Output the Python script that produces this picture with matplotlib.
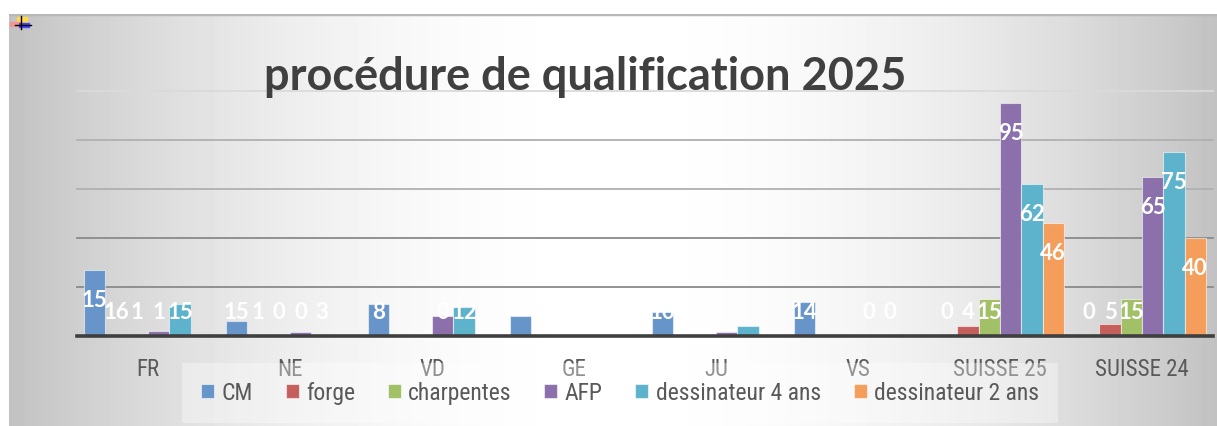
import numpy as np
import matplotlib
matplotlib.use("Agg")
import matplotlib.pyplot as plt
from matplotlib import font_manager
from matplotlib.patches import Rectangle

categories = ["FR", "NE", "VD", "GE", "JU", "VS", "SUISSE 25", "SUISSE 24"]
series_names = ["CM", "forge", "charpentes", "AFP", "dessinateur 4 ans", "dessinateur 2 ans"]

# bar heights as drawn in the reference
cm_vals = [27, 6, 13, 8, 10, 14, 0, 0]
forge_vals = [0, 0, 0, 0, 0, 0, 4, 5]
charp_vals = [0, 0, 0, 0, 0, 0, 15, 15]
afp_vals = [2, 1.5, 8, 0, 1.5, 0, 95, 65]
dess4_vals = [13, 0, 12, 0.5, 4, 0, 62, 75]
dess2_vals = [0, 0, 0, 0, 0, 0, 46, 40]

# data labels as printed in the reference (they do not always match the bars)
cm_labels = ["15", "15", "8", "", "10", "14", "0", "0"]
forge_labels = ["16", "1", "", "", "", "", "4", "5"]
charp_labels = ["1", "0", "", "", "", "", "15", "15"]
afp_labels = ["1", "0", "0", "", "", "0", "95", "65"]
dess4_labels = ["15", "3", "12", "", "", "0", "62", "75"]
dess2_labels = ["", "", "", "", "", "", "46", "40"]

colors = ["#6794C9", "#C45F5C", "#A2C065", "#8B70AB", "#5DB3CB", "#F59D5A"]

values = [cm_vals, forge_vals, charp_vals, afp_vals, dess4_vals, dess2_vals]
labels = [cm_labels, forge_labels, charp_labels, afp_labels, dess4_labels, dess2_labels]

names = {f.name for f in font_manager.fontManager.ttflist}
narrow = next((f for f in ["Liberation Sans Narrow", "Roboto Condensed", "Open Sans Condensed",
                           "Noto Sans"] if f in names), "DejaVu Sans")
bold_font = "Lato" if "Lato" in names else "DejaVu Sans"

W, H = 1217, 427
fig = plt.figure(figsize=(W / 100, H / 100), dpi=100)
fig.patch.set_facecolor("white")


def px(x0, y0, x1, y1):
    # pixel box (top-left origin) -> figure fraction rect
    return [x0 / W, 1 - y1 / H, (x1 - x0) / W, (y1 - y0) / H]


# gradient background of the chart area
bg = fig.add_axes(px(9, 15, 1217, 427))
xx = np.linspace(9, 1217, 400)
u = (xx - 613) / 604
grad = 1 - 0.24 * u ** 2
img = np.tile(grad, (50, 1))
bg.imshow(img, cmap="gray", vmin=0, vmax=1, aspect="auto", extent=[0, 1, 0, 1])
bg.axhline(1, color="#b8b8b8", lw=2.5)
bg.set_axis_off()

# little corner icon
icon = fig.add_axes(px(9, 16, 35, 32))
icon.set_xlim(0, 26)
icon.set_ylim(16, 0)
icon.add_patch(Rectangle((8, 2), 10, 8, color="#ffd84a"))
icon.add_patch(Rectangle((1, 7), 10, 4, color="#ff8c8c", alpha=0.8))
icon.add_patch(Rectangle((10, 8), 10, 4, color="#4646ff"))
icon.plot([12, 12], [1, 14], color="black", lw=1)
icon.plot([6, 22], [10, 10], color="black", lw=1)
icon.set_axis_off()

ax = fig.add_axes(px(77, 92, 1213, 337))
ax.patch.set_alpha(0)
x = np.arange(len(categories))
bw = 0.15
for i, (vals, labs, col) in enumerate(zip(values, labels, colors)):
    pos = x + (i - 2.5) * bw
    ax.bar(pos, vals, width=bw, color=col, edgecolor=(1, 1, 1, 0.55), linewidth=0.8,
           zorder=3, label=series_names[i])
    for p, v, t in zip(pos, vals, labs):
        if t:
            ax.text(p, max(v - 12, 10), t, ha="center", va="center", color="white",
                    fontsize=16, fontweight="bold", family=bold_font, zorder=4)

ax.set_xlim(-0.5, len(categories) - 0.5)
ax.set_ylim(0, 100)
grid_cols = {20: "#8a8a8a", 40: "#8a8a8a", 60: "#b0b0b0", 80: "#b0b0b0", 100: "#dadada"}
for yv, gc in grid_cols.items():
    ax.axhline(yv, color=gc, lw=1.3, zorder=1, clip_on=False)
ax.axhline(0, color="#3f3f3f", lw=2.6, zorder=5, clip_on=False)
for s in ax.spines.values():
    s.set_visible(False)
ax.set_yticks([])
ax.set_xticks(x)
ax.set_xticklabels(categories, fontsize=16.5, color="#595959", family=narrow)
ax.tick_params(axis="x", length=0, pad=15)

fig.text(0.481, 1 - 77 / H, "procédure de qualification 2025", ha="center", va="center",
         fontsize=32.5, fontweight="bold", color="#404040", family=bold_font)

handles, hl = ax.get_legend_handles_labels()
leg = fig.legend(handles, hl, loc="center", bbox_to_anchor=(620 / W, 1 - 394 / H), ncol=6,
                 frameon=True, handlelength=0.55, handleheight=0.55,
                 handletextpad=0.3, columnspacing=1.4, borderpad=0.5,
                 prop={"family": narrow, "size": 17})
leg.get_frame().set_facecolor("white")
leg.get_frame().set_alpha(0.35)
leg.get_frame().set_edgecolor("none")
leg.get_frame().set_boxstyle("square")
for t in leg.get_texts():
    t.set_color("#595959")

fig.savefig("out.png", dpi=100)
